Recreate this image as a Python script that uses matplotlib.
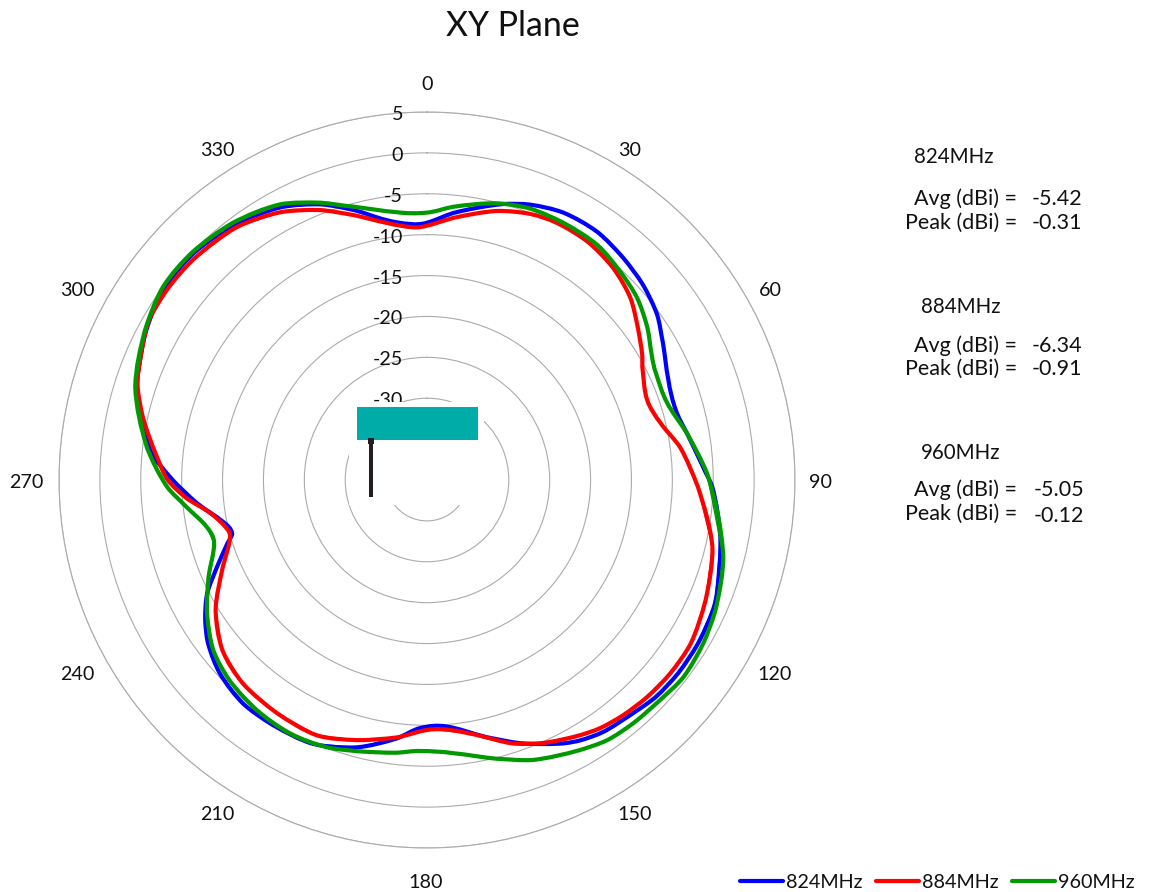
import numpy as np
import matplotlib
matplotlib.use("Agg")
import matplotlib.pyplot as plt
from matplotlib.patches import Rectangle, PathPatch
from matplotlib.path import Path
from matplotlib.lines import Line2D

plt.rcParams['font.family'] = ['Lato', 'DejaVu Sans']

W, H = 1149, 892
CX, CY, R = 427, 480, 368

title = "XY Plane"
angle_ticks = [0, 30, 60, 90, 120, 150, 180, 210, 240, 270, 300, 330]
radial_ticks = [-35, -30, -25, -20, -15, -10, -5, 0, 5]

theta_824 = [0, 5.6, 15.4, 20.5, 27, 34.4, 41.4, 47.9, 54.3, 59.7, 67.5, 74.2, 79.8, 87.3, 91.4, 101, 113.1, 121, 127.6, 133.6,
             139.2, 145, 149.5, 152.7, 160.5, 166.9, 175.4, 181.6, 186.6, 194.7, 203.4, 212.2, 219.5, 227, 233.3, 237.8,
             242.7, 247.5, 252.4, 254.8, 258.4, 264.3, 270, 276, 287.5, 298, 306, 314, 323, 332, 339, 345, 351, 356.5]
gain_824 = [-8.54, -7.2, -5.0, -4.05, -3.3, -3.2, -3.75, -4.4, -5.35, -6.6, -8.05, -8.4, -7.7, -6.2, -5.1, -3.45, -1.7, -1.3, -1.25, -1.45,
            -2.0, -2.4, -3.05, -3.75, -5.85, -7.7, -9.75, -9.65, -8.2, -6.2, -4.85, -4.6, -4.6, -5.35, -6.6, -7.95,
            -9.75, -12.2, -14.4, -15.3, -14.55, -11.7, -8.9, -6.0, -2.8, -1.1, -0.2, -0.2, -0.85, -2.2, -3.9, -5.85, -7.8, -8.65]

theta_884 = [0, 5.7, 14.6, 21.2, 26.8, 33.9, 41.3, 48.1, 54.2, 59.8, 63, 70, 76.3, 82.6, 91.5, 103.2, 113.3, 121.8, 128.5, 134.6,
             140.2, 145.1, 149, 156.2, 161.9, 170.4, 178.6, 186.7, 195.1, 203.3, 212.8, 222.2, 230.2, 238.4, 246.9, 253.1,
             255.9, 261.4, 265.7, 270, 274.9, 282.5, 288.6, 299.4, 306.2, 313.2, 323, 331.2, 338.4, 344.4, 351.2, 356.8]
gain_884 = [-8.9, -7.8, -6.0, -5.1, -4.75, -4.85, -5.5, -6.6, -8.2, -9.55, -10.4, -11.35, -10.6, -8.8, -6.85, -4.15, -2.9, -2.05, -2.0, -2.2,
            -2.55, -3.0, -3.6, -4.85, -6.1, -8.55, -9.5, -8.3, -7.05, -6.0, -6.1, -6.45, -7.45, -9.65, -12.85, -14.8,
            -14.9, -13.15, -10.5, -8.3, -6.85, -4.4, -2.65, -0.85, -0.6, -0.7, -1.3, -2.65, -4.5, -6.35, -8.2, -9.05]

theta_960 = [0, 5.4, 14.2, 20.8, 27.9, 35.9, 42.9, 49.1, 55.4, 60.9, 64.9, 72.2, 79.8, 88.6, 104.6, 114.3, 120.6, 127.6, 133.4, 139.7,
             145.3, 150.5, 159.3, 165.9, 174.6, 181.5, 186.3, 194.5, 200.5, 208.4, 216.5, 224.6, 231.5, 238.8, 246,
             253.5, 258, 263.6, 268.5, 276.7, 287.7, 298, 306.2, 314, 323, 331.9, 338.9, 344.8, 353.6]
gain_960 = [-7.3, -6.45, -5.1, -4.5, -4.4, -4.5, -5.25, -6.0, -7.25, -8.55, -9.1, -9.15, -7.7, -5.75, -2.55, -1.3, -0.75, -0.45, -0.8, -1.0,
            -1.3, -2.05, -3.4, -4.85, -6.45, -6.85, -6.45, -5.75, -5.1, -4.75, -5.0, -5.6, -6.6, -8.55, -10.75,
            -12.85, -12.45, -10.4, -8.2, -5.5, -2.55, -0.95, 0.0, 0.0, -0.6, -1.8, -3.65, -5.35, -7.05]

series_names = ["824MHz", "884MHz", "960MHz"]
series_colors = ["#0000FF", "#FF0000", "#009A00"]
avg_values = ["-5.42", "-6.34", "-5.05"]
peak_values = ["-0.31", "-0.91", "-0.12"]


def smooth_path(theta_deg, gain):
    """Closed Bezier path running through the read points, as a smoothed line style."""
    th = np.deg2rad(np.asarray(theta_deg, float))
    g = np.asarray(gain, float)
    n = len(th)
    t_ext = np.r_[th[-1] - 2 * np.pi, th, th[0] + 2 * np.pi, th[1] + 2 * np.pi]
    g_ext = np.r_[g[-1], g, g[0], g[1]]
    slope = (g_ext[2:] - g_ext[:-2]) / (t_ext[2:] - t_ext[:-2])
    verts = [(t_ext[1], g_ext[1])]
    codes = [Path.MOVETO]
    for i in range(n):
        h = t_ext[i + 2] - t_ext[i + 1]
        verts += [(t_ext[i + 1] + h / 3, g_ext[i + 1] + slope[i] * h / 3),
                  (t_ext[i + 2] - h / 3, g_ext[i + 2] - slope[i + 1] * h / 3),
                  (t_ext[i + 2], g_ext[i + 2])]
        codes += [Path.CURVE4] * 3
    return Path(verts, codes)


fig = plt.figure(figsize=(W / 100, H / 100), dpi=100, facecolor="white")
ax = fig.add_axes([(CX - R) / W, (H - CY - R) / H, 2 * R / W, 2 * R / H], projection="polar")
ax.set_theta_zero_location("N")
ax.set_theta_direction(-1)
ax.set_ylim(-40, 5)
ax.set_xticks(np.deg2rad(angle_ticks), [""] * len(angle_ticks))
ax.set_yticks(radial_ticks, [""] * len(radial_ticks))
ax.tick_params(axis="both", length=0)
ax.grid(False, axis="x")
ax.grid(True, axis="y", color="#ABABAB", lw=0.8)
ax.spines["polar"].set_color("#ABABAB")
ax.spines["polar"].set_linewidth(0.8)

axis_fs = 14.2
for rt in radial_ticks:
    ax.annotate(str(rt), xy=(0, rt), xytext=(-24, -2.5), xycoords="data", textcoords="offset pixels",
                ha="right", va="center", fontsize=axis_fs, color="#111111")

data = [(theta_824, gain_824), (theta_884, gain_884), (theta_960, gain_960)]
handles = []
for (th, g), name, col in zip(data, series_names, series_colors):
    ax.plot(np.deg2rad(th + [th[0] + 360]), g + [g[0]], color=col, lw=1.0, zorder=4)
    ax.add_patch(PathPatch(smooth_path(th, g), fill=False, ec=col, lw=3.0, zorder=4, joinstyle="round"))
    handles.append(Line2D([], [], color=col, lw=3.0, solid_capstyle="round"))

# overlay in pixel coordinates: angle labels, antenna sketch and side notes
ov = fig.add_axes([0, 0, 1, 1], zorder=5)
ov.set_xlim(0, W)
ov.set_ylim(H, 0)
ov.axis("off")
ov.patch.set_alpha(0)
ov.add_patch(Rectangle((349, 402), 135, 103, fc="white", ec="none"))
ov.add_patch(Rectangle((357, 407), 121, 33, fc="#00ACA8", ec="none"))
ov.add_patch(Rectangle((369, 440), 4, 57, fc="#231F20", ec="none"))
ov.add_patch(Rectangle((367.5, 438), 6.5, 6, fc="#231F20", ec="none"))

angle_label_px = [(427, 84), (630, 150), (770, 291), (821, 483), (775, 674), (635, 815),
                  (426, 882), (217, 815), (77, 674), (26, 483), (77, 291), (217, 150)]
for a, (x, y) in zip(angle_ticks, angle_label_px):
    ov.text(x, y, str(a), ha="center", va="center", fontsize=axis_fs, color="#111111")

fs = 15.5
head_pos = [(954, 157), (961, 307), (961, 453)]
avg_y = [199, 346, 490]
peak_y = [223, 369, 514]
val_x = [1057, 1057, 1059]
peak_val_y = [223, 369, 516]
for i, name in enumerate(series_names):
    ov.text(*head_pos[i], name, ha="center", va="center", fontsize=14.8, color="#111111")
    ov.text(1017, avg_y[i], "Avg (dBi) =", ha="right", va="center", fontsize=fs, color="#111111")
    ov.text(1017, peak_y[i], "Peak (dBi) =", ha="right", va="center", fontsize=fs, color="#111111")
    ov.text(val_x[i], avg_y[i], avg_values[i], ha="center", va="center", fontsize=fs, color="#111111")
    ov.text(val_x[i], peak_val_y[i], peak_values[i], ha="center", va="center", fontsize=fs, color="#111111")

ov.text(513, 26, title, ha="center", va="center", fontsize=24.4, color="#111111")

fig.legend(handles=handles, labels=series_names, loc="center right",
           bbox_to_anchor=(1135 / W, (H - 882) / H), ncol=3, frameon=False, fontsize=axis_fs,
           handlelength=2.18, handletextpad=0.15, columnspacing=0.7, borderpad=0, borderaxespad=0,
           labelcolor="#111111")

fig.savefig("out.png", dpi=100)
